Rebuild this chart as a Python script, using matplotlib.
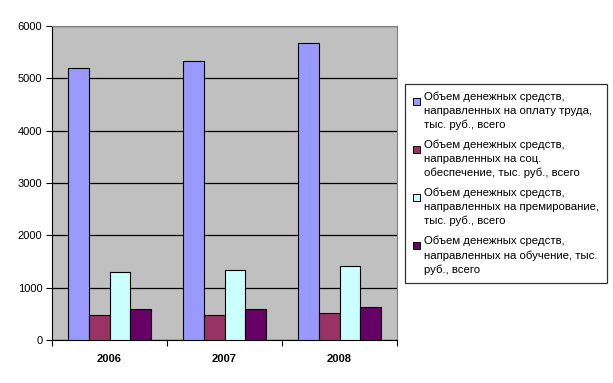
import numpy as np
import matplotlib.pyplot as plt
from matplotlib.patches import Rectangle
from matplotlib.legend_handler import HandlerPatch

plt.rcParams['font.family'] = ['Liberation Sans', 'DejaVu Sans']

# data
years = ['2006', '2007', '2008']
pay = [5190, 5325, 5675]
social = [472, 472, 516]
bonus = [1293, 1332, 1414]
training = [586, 586, 625]

labels = [
    'Объем денежных средств,\nнаправленных на оплату труда,\nтыс. руб., всего',
    'Объем денежных средств,\nнаправленных на соц.\nобеспечение, тыс. руб., всего',
    'Объем денежных средств,\nнаправленных на премирование,\nтыс. руб., всего',
    'Объем денежных средств,\nнаправленных на обучение, тыс.\nруб., всего',
]
colors = ['#9999FF', '#993366', '#CCFFFF', '#660066']


# small square key next to the first line of each legend entry
def top_square(legend, orig_handle, xdescent, ydescent, width, height, fontsize):
    sq = 0.6 * fontsize
    return Rectangle((-xdescent, -ydescent + height - sq + 0.05 * fontsize), sq, sq)


fig = plt.figure(figsize=(6.13, 3.83), dpi=100)
ax = fig.add_axes([52 / 613, 43 / 383, 345 / 613, 314 / 383])
ax.set_facecolor('#C0C0C0')

x = np.arange(len(years))
w = 1 / 5.5
series = [pay, social, bonus, training]
handles = []
for i, vals in enumerate(series):
    b = ax.bar(x - 2 * w + (i + 0.5) * w, vals, width=w, color=colors[i],
               edgecolor='black', linewidth=0.8, zorder=3)
    handles.append(b.patches[0])

ax.set_xlim(-0.5, len(years) - 0.5)
ax.set_ylim(0, 6000)
ax.set_yticks(range(0, 6001, 1000))
ax.yaxis.grid(True, color='black', linewidth=0.9, zorder=0)
ax.set_axisbelow(True)

ax.set_xticks(np.arange(-0.5, len(years), 1.0))
ax.set_xticklabels([])
ax.set_xticks(x, minor=True)
ax.set_xticklabels(years, minor=True, fontsize=8, fontweight='bold')
ax.tick_params(axis='x', which='minor', length=0, pad=10)
ax.tick_params(axis='x', which='major', length=4, direction='out', color='black')
ax.tick_params(axis='y', length=4, direction='out', labelsize=8, pad=3)

for s in ['top', 'right']:
    ax.spines[s].set_color('#808080')
for s in ['left', 'bottom']:
    ax.spines[s].set_color('black')

leg = fig.legend(handles, labels, loc='upper left',
                 bbox_to_anchor=(405 / 613, (383 - 84) / 383),
                 fontsize=8.2, frameon=True, fancybox=False, edgecolor='black',
                 handlelength=0.6, handleheight=3.2, handletextpad=0.4,
                 labelspacing=0.85, borderpad=0.7, borderaxespad=0,
                 handler_map={Rectangle: HandlerPatch(patch_func=top_square)})
leg.get_frame().set_linewidth(0.9)
for t in leg.get_texts():
    t.set_linespacing(1.45)
for h in leg.legend_handles:
    h.set_edgecolor('black')
    h.set_linewidth(0.7)

fig.savefig('out.png', dpi=100)
